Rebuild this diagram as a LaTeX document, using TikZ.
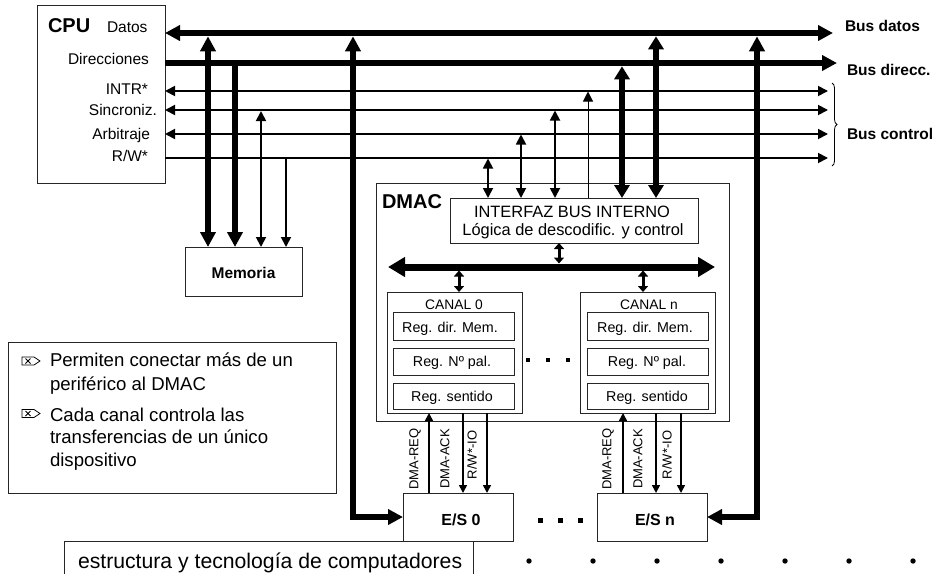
\documentclass[tikz,border=0pt]{standalone}
\usepackage{fontspec}
\setmainfont{Liberation Sans}
\usetikzlibrary{arrows.meta,decorations.pathreplacing}
\newcommand{\fsz}[1]{\fontsize{#1}{#1}\selectfont}
\begin{document}
\begin{tikzpicture}[x=1pt,y=-1pt,
  box/.style={draw=black!85, line width=0.9pt, inner sep=0pt, outer sep=0pt},
  lbl/.style={inner sep=0pt, outer sep=0pt},
  bus/.style={line width=6.5pt},
  ibus/.style={line width=7pt},
  ctl/.style={line width=1.8pt},
  sig/.style={line width=1.6pt},
  hair/.style={line width=1pt},
  tb/.tip={Triangle[length=15pt,width=15pt]},
  tm/.tip={Triangle[length=13pt,width=15pt]},
  tc/.tip={Triangle[length=10pt,width=10pt]},
  ts/.tip={Triangle[length=8pt,width=8pt]},
  ti/.tip={Triangle[length=17pt,width=19pt]},
  tk/.tip={Triangle[length=6pt,width=10pt]},
  erasesym/.pic={\draw[line width=0.8pt] (0,-4) -- (12,-4) -- (18,0) -- (12,4) -- (0,4) -- cycle;
                 \draw[line width=0.8pt] (3.5,-2.5) -- (8.5,2.5) (3.5,2.5) -- (8.5,-2.5);}
]
\useasboundingbox (0,0) rectangle (936,573);

% ---------------- boxes ----------------
\node[box, minimum width=128pt, minimum height=178pt] (cpu) at (101,94) {};
\node[box, minimum width=117pt, minimum height=49pt] (mem) at (243.5,271.5) {};
\node[box, minimum width=353pt, minimum height=238pt] (dmac) at (552.5,302) {};
\node[box, minimum width=248pt, minimum height=45pt] (iface) at (574,220.5) {};
\node[box, minimum width=135pt, minimum height=121pt] (can0) at (454.5,352.5) {};
\node[box, minimum width=135pt, minimum height=121pt] (cann) at (647.5,352.5) {};
\node[box, minimum width=121pt, minimum height=28pt] (r0a) at (453.5,326) {};
\node[box, minimum width=121pt, minimum height=27pt] (r0b) at (453.5,361.5) {};
\node[box, minimum width=121pt, minimum height=26pt] (r0c) at (453.5,396) {};
\node[box, minimum width=121pt, minimum height=28pt] (rna) at (647.5,326) {};
\node[box, minimum width=121pt, minimum height=27pt] (rnb) at (647.5,361.5) {};
\node[box, minimum width=121pt, minimum height=26pt] (rnc) at (647.5,396) {};
\node[box, minimum width=110pt, minimum height=48pt] (es0) at (458,517) {};
\node[box, minimum width=110pt, minimum height=48pt] (esn) at (652,517) {};
\node[box, minimum width=328pt, minimum height=151pt] (leg) at (172,417.5) {};
\draw[draw=black!85, line width=0.9pt] (64,575) -- (64,541.7) -- (473,541.7) -- (473,575);

% ---------------- texts ----------------
\node[lbl, anchor=base west, font=\fsz{20}\bfseries] (tcpu) at (48,32) {CPU};
\node[lbl, anchor=base west, font=\fsz{15.5}] (tdat) at (107,32) {Datos};
\node[lbl, anchor=base east, font=\fsz{15.5}] (tdir) at (149,64) {Direcciones};
\node[lbl, anchor=base east, font=\fsz{15.5}] (tint) at (148,94.5) {INTR*};
\node[lbl, anchor=base east, font=\fsz{15.5}] (tsin) at (157,115) {Sincroniz.};
\node[lbl, anchor=base east, font=\fsz{15.5}] (tarb) at (150,139) {Arbitraje};
\node[lbl, anchor=base east, font=\fsz{15.5}] (trw) at (148,161) {R/W*};
\node[lbl, anchor=base west, font=\fsz{15.5}\bfseries] (tbd) at (845,31) {Bus datos};
\node[lbl, anchor=base west, font=\fsz{15.5}\bfseries] (tbdir) at (847,75) {Bus direcc.};
\node[lbl, anchor=base west, font=\fsz{15.5}\bfseries] (tbc) at (847,139) {Bus control};
\node[lbl, anchor=base, font=\fsz{15.5}\bfseries] (tmem) at (243.5,278) {Memoria};
\node[lbl, anchor=base west, font=\fsz{20}\bfseries] (tdmac) at (382,208) {DMAC};
\node[lbl, anchor=base, font=\fsz{16.4}] (tif1) at (572,217) {INTERFAZ BUS INTERNO};
\node[lbl, anchor=base, font=\fsz{16.4}] (tif2) at (573,235.5) {Lógica de descodific. y control};
\node[lbl, anchor=base, font=\fsz{13.8}] (tc0) at (454,309) {CANAL 0};
\node[lbl, anchor=base, font=\fsz{13.8}] (tcn) at (649,309) {CANAL n};
\node[lbl, anchor=base, font=\fsz{14.3}] (t0a) at (450,332) {Reg. dir. Mem.};
\node[lbl, anchor=base, font=\fsz{14.3}] (t0b) at (452,366.7) {Reg. Nº pal.};
\node[lbl, anchor=base, font=\fsz{14.3}] (t0c) at (452,401) {Reg. sentido};
\node[lbl, anchor=base, font=\fsz{14.3}] (tna) at (645,332) {Reg. dir. Mem.};
\node[lbl, anchor=base, font=\fsz{14.3}] (tnb) at (647,366.7) {Reg. Nº pal.};
\node[lbl, anchor=base, font=\fsz{14.3}] (tnc) at (647,401) {Reg. sentido};
\node[lbl, anchor=base, font=\fsz{16}\bfseries] (tes0) at (461,525) {E/S 0};
\node[lbl, anchor=base, font=\fsz{16}\bfseries] (tesn) at (655,525) {E/S n};
\node[lbl, rotate=90, font=\fsz{13}] (q0) at (415,459) {DMA-REQ};
\node[lbl, rotate=90, font=\fsz{13}] (a0) at (445,459) {DMA-ACK};
\node[lbl, rotate=90, font=\fsz{13}] (w0) at (472,455) {R/W*-IO};
\node[lbl, rotate=90, font=\fsz{13}] (qn) at (608,459) {DMA-REQ};
\node[lbl, rotate=90, font=\fsz{13}] (an) at (638,459) {DMA-ACK};
\node[lbl, rotate=90, font=\fsz{13}] (wn) at (667,455) {R/W*-IO};
\node[lbl, anchor=base west, font=\fsz{18.6}] (l1a) at (50,366.7) {Permiten conectar más de un};
\node[lbl, anchor=base west, font=\fsz{18.6}] (l1b) at (50,390) {periférico al DMAC};
\node[lbl, anchor=base west, font=\fsz{18.6}] (l2a) at (50,421.7) {Cada canal controla las};
\node[lbl, anchor=base west, font=\fsz{18.6}] (l2b) at (50,443.7) {transferencias de un único};
\node[lbl, anchor=base west, font=\fsz{18.6}] (l2c) at (50,466.7) {dispositivo};
\pic at (22,361) {erasesym};
\pic at (22,413.5) {erasesym};
\node[lbl, anchor=base west, font=\fsz{21.2}] (bot) at (78,568) {estructura y tecnología de computadores};

% ---------------- system buses ----------------
\coordinate (bdE) at (833,33);
\coordinate (baE) at (837,63);
\coordinate (biE) at (828,91);
\coordinate (bsE) at (828,110);
\coordinate (bbE) at (828,134);
\coordinate (brE) at (828,158);
\draw[bus, tb-tb] (cpu.east |- bdE) -- (bdE);
\draw[bus, -tb] (cpu.east |- baE) -- (baE);
\draw[ctl, tc-tc] (cpu.east |- biE) -- (biE);
\draw[ctl, tc-tc] (cpu.east |- bsE) -- (bsE);
\draw[ctl, tc-tc] (cpu.east |- bbE) -- (bbE);
\draw[ctl, -tc] (cpu.east |- brE) -- (brE);
\draw[line width=0.8pt, decorate, decoration={brace, amplitude=5pt}] (832,83) -- (832,166);

% ---------------- memory connections ----------------
\coordinate (m1) at (208,36.3);
\coordinate (m2) at (235,63);
\coordinate (m3) at (261,111);
\coordinate (m4) at (286,158);
\draw[bus, tb-tb] (m1) -- (m1 |- mem.north);
\draw[bus, -tb] (m2) -- (m2 |- mem.north);
\draw[ctl, tc-tc] (m3) -- (m3 |- mem.north);
\draw[ctl, -tc] (m4) -- (m4 |- mem.north);

% ---------------- E/S data paths ----------------
\coordinate (e0) at (353,36.3);
\coordinate (en) at (757,36.3);
\draw[bus, tb-tb] (e0) |- (es0.west);
\draw[bus, tb-tb] (en) |- (esn.east);

% ---------------- DMAC to system bus ----------------
\coordinate (d1) at (488,158.5);
\coordinate (d2) at (521,134.5);
\coordinate (d3) at (555,110.5);
\coordinate (d4) at (588,91.5);
\coordinate (d5) at (622,66.3);
\coordinate (d6) at (656,36.3);
\draw[ctl, tc-tc] (d1) -- (d1 |- iface.north);
\draw[ctl, tc-tc] (d2) -- (d2 |- iface.north);
\draw[ctl, tc-tc] (d3) -- (d3 |- iface.north);
\draw[hair, tc-] (d4) -- (d4 |- iface.north);
\draw[line width=6pt, tm-tm] (d5) -- (d5 |- iface.north);
\draw[line width=6pt, tm-tm] (d6) -- (d6 |- iface.north);

% ---------------- internal bus ----------------
\coordinate (ibL) at (388,267);
\coordinate (ibR) at (715,267);
\draw[ibus, ti-ti] (ibL) -- (ibR);
\coordinate (ib1) at (559,263.5);
\coordinate (ib2) at (459,270.5);
\coordinate (ib3) at (643,270.5);
\draw[line width=3pt, tk-tk] (ib1 |- iface.south) -- (ib1);
\draw[line width=3pt, tk-tk] (ib2) -- (ib2 |- can0.north);
\draw[line width=3pt, tk-tk] (ib3) -- (ib3 |- cann.north);

% ---------------- channel signals ----------------
\coordinate (s1) at (429,0); \coordinate (s2) at (463,0); \coordinate (s3) at (487,0);
\coordinate (s4) at (623,0); \coordinate (s5) at (656,0); \coordinate (s6) at (681,0);
\draw[sig, -ts] (s1 |- es0.north) -- (s1 |- can0.south);
\draw[sig, -ts] (s2 |- can0.south) -- (s2 |- es0.north);
\draw[sig, -ts] (s3 |- can0.south) -- (s3 |- es0.north);
\draw[sig, -ts] (s4 |- esn.north) -- (s4 |- cann.south);
\draw[sig, -ts] (s5 |- cann.south) -- (s5 |- esn.north);
\draw[sig, -ts] (s6 |- cann.south) -- (s6 |- esn.north);

% ---------------- dots ----------------
\foreach \xx in {528,548,568} \fill (\xx-2.3,357.7) rectangle (\xx+2.3,362.3);
\foreach \xx in {540,560,580} \fill (\xx-2.5,517.5) rectangle (\xx+2.5,522.5);
\foreach \xx in {529,593,657,721,785,849,913} \fill (\xx,561) circle (2.7pt);
\end{tikzpicture}
\end{document}
